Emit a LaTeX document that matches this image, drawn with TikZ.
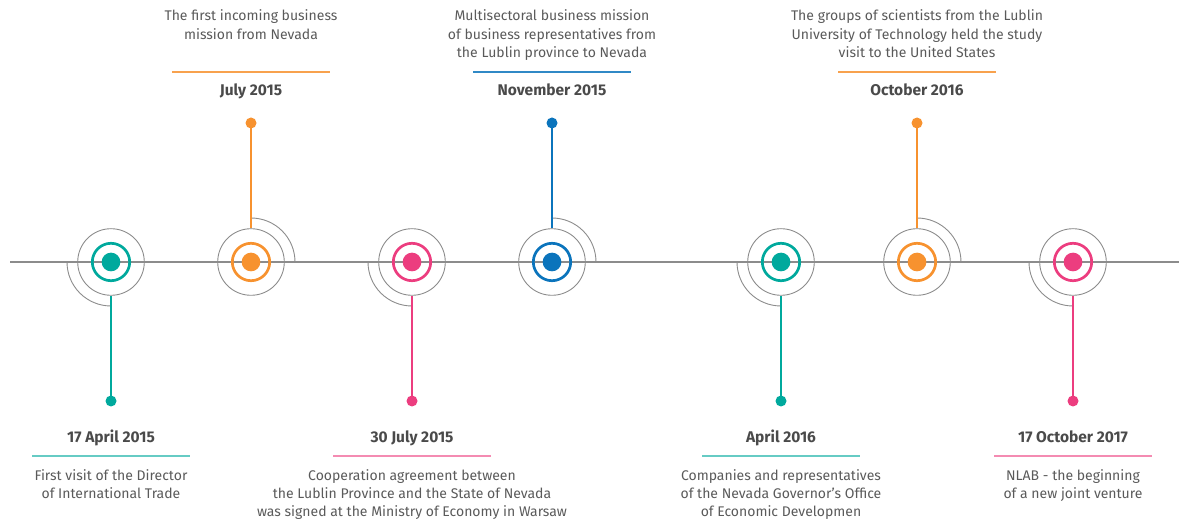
\documentclass[tikz,border=0pt]{standalone}
\usepackage{fontspec}
\setmainfont{Fira Sans}
\definecolor{cteal}{HTML}{00A99D}
\definecolor{corange}{HTML}{F7922F}
\definecolor{cpink}{HTML}{EC3D7F}
\definecolor{cblue}{HTML}{0B74BC}
\definecolor{cgrayline}{HTML}{8C8C8C}
\definecolor{ctext}{HTML}{5A5A5A}
\definecolor{cdate}{HTML}{4A4A4A}
\newcommand{\tlevent}[8]{%
  % #1 name, #2 x, #3 up/down (1 = top, -1 = bottom), #4 color, #5 date, #6 text, #7 separator colour, #8 number of text lines
  \node[outerring] (o#1) at (#2,262) {};
  \node[innerring,draw=#4] (r#1) at (#2,262) {};
  \node[centerdot,fill=#4] (c#1) at (#2,262) {};
  \ifnum#3=1
    \draw[arcline] (#2,218) arc[start angle=270,end angle=360,radius=44];
    \node[enddot,fill=#4] (d#1) at (#2,123) {};
    \draw[stem,draw=#4] (o#1.north) -- (d#1.center);
    \node[datelabel] (t#1) at (#2,95.7) {#5};
    \coordinate (sl#1) at ([xshift=-79pt]#2,72);
    \coordinate (sr#1) at ([xshift=79pt]#2,72);
    \draw[sepline,draw=#7] (sl#1) -- (sr#1);
    \node[desclabel] (x#1) at (#2,{21+(#8-1)*18.3}) {#6};
  \else
    \draw[arcline] ([xshift=-44pt]#2,262) arc[start angle=180,end angle=90,radius=44];
    \node[enddot,fill=#4] (d#1) at (#2,401) {};
    \draw[stem,draw=#4] (o#1.south) -- (d#1.center);
    \node[datelabel] (t#1) at (#2,442.3) {#5};
    \coordinate (sl#1) at ([xshift=-79pt]#2,456);
    \coordinate (sr#1) at ([xshift=79pt]#2,456);
    \draw[sepline,draw=#7] (sl#1) -- (sr#1);
    \node[desclabel] (x#1) at (#2,{480+(#8-1)*18.3}) {#6};
  \fi
}
\begin{document}
\begin{tikzpicture}[x=1pt,y=-1pt,
  outerring/.style={circle,draw=cgrayline,line width=0.9pt,minimum size=66.6pt,inner sep=0pt},
  innerring/.style={circle,line width=2.7pt,minimum size=37.4pt,inner sep=0pt},
  centerdot/.style={circle,minimum size=18.7pt,inner sep=0pt},
  enddot/.style={circle,minimum size=11pt,inner sep=0pt},
  arcline/.style={draw=cgrayline,line width=0.9pt},
  stem/.style={line width=1.1pt},
  axisline/.style={draw=cgrayline,line width=1.5pt},
  sepline/.style={line width=1.3pt},
  datelabel/.style={anchor=base,inner sep=0pt,text=cdate,font=\fontsize{15.5}{18}\selectfont\bfseries},
  desclabel/.style={anchor=base,inner sep=0pt,align=center,text=ctext,font=\fontsize{14}{18.3}\selectfont}
]
\useasboundingbox (0,0) rectangle (1179,521);
\coordinate (axL) at (10,262);
\coordinate (axR) at (1179,262);
\draw[axisline] (axL) -- (axR);
\tlevent{1}{111}{-1}{cteal}{17 April 2015}{First visit of the Director\\of International Trade}{cteal!60}{2}
\tlevent{2}{251}{1}{corange}{July 2015}{The first incoming business\\mission from Nevada}{corange!85}{2}
\tlevent{3}{412}{-1}{cpink}{30 July 2015}{Cooperation agreement between\\the Lublin Province and the State of Nevada\\was signed at the Ministry of Economy in Warsaw}{cpink!60}{3}
\tlevent{4}{552}{1}{cblue}{November 2015}{Multisectoral business mission\\of business representatives from\\the Lublin province to Nevada}{cblue!85}{3}
\tlevent{5}{781}{-1}{cteal}{April 2016}{Companies and representatives\\of the Nevada Governor’s Office\\of Economic Developmen}{cteal!60}{3}
\tlevent{6}{917}{1}{corange}{October 2016}{The groups of scientists from the Lublin\\University of Technology held the study\\visit to the United States}{corange!85}{3}
\tlevent{7}{1073}{-1}{cpink}{17 October 2017}{NLAB - the beginning\\of a new joint venture}{cpink!60}{2}
\end{tikzpicture}
\end{document}
